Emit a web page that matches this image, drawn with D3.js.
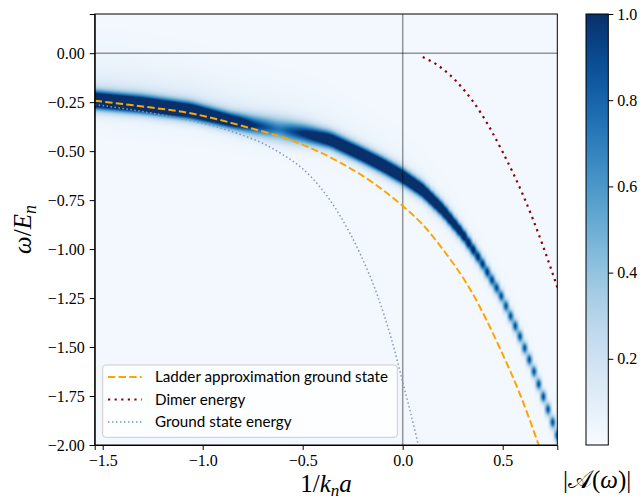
<!DOCTYPE html>
<html>
<head>
<meta charset="utf-8">
<script src="https://cdn.jsdelivr.net/npm/d3@7"></script>
<style>
body{margin:0;background:#fff}
svg{display:block}
.axis text{font-family:"Liberation Serif",serif;font-size:16px;fill:#000}
.axis path,.axis line{stroke:#000}
.lab{font-family:"Liberation Serif",serif;font-size:25px}
.leg{font-family:Lato,sans-serif;font-size:15.2px}
</style>
</head>
<body>
<div id="chart"></div>
<script>
// ---- values ----
// spectral peak position along 1/k_n a
const bandX   = [-1.54, -1.3, -1.06, -0.86, -0.75, -0.62, -0.5, -0.42, -0.36, -0.2, -0.1, 0, 0.1, 0.2, 0.3, 0.39, 0.49, 0.58, 0.65, 0.72, 0.773];
const bandY   = [-0.24, -0.263, -0.295, -0.345, -0.368, -0.39, -0.41, -0.428, -0.443, -0.52, -0.572, -0.63, -0.70, -0.80, -0.925, -1.06, -1.234, -1.43, -1.608, -1.80, -1.95];
const bandAmp = [1.6, 1.6, 1.55, 1.3, 0.85, 0.55, 0.9, 1.15, 1.35, 1.55, 1.6, 1.6, 1.6, 1.5, 1.3, 1.05, 0.9, 0.9, 0.9, 0.9, 0.9];
const bandW   = [0.03, 0.03, 0.029, 0.028, 0.034, 0.042, 0.036, 0.032, 0.03, 0.028, 0.028, 0.028, 0.027, 0.026, 0.024, 0.023, 0.022, 0.022, 0.022, 0.022, 0.022];
const bandHaze= [0.24, 0.23, 0.21, 0.19, 0.17, 0.15, 0.12, 0.1, 0.09, 0.06, 0.05, 0.04, 0.03, 0.02, 0.02, 0.02, 0.02, 0.02, 0.02, 0.02, 0.02];

// ladder approximation ground state (orange dashed)
const ladderX = [-1.54, -1.3, -1.06, -0.76, -0.56, -0.31, -0.2, -0.11, 0, 0.1, 0.2, 0.34, 0.49, 0.59, 0.68];
const ladderY = [-0.243, -0.272, -0.307, -0.383, -0.443, -0.56, -0.626, -0.69, -0.78, -0.875, -1.0, -1.21, -1.515, -1.75, -2.0];

// dimer energy (dark red dotted)
const dimerX = [0.10, 0.17, 0.24, 0.31, 0.39, 0.50, 0.60, 0.70, 0.773];
const dimerY = [-0.02, -0.058, -0.115, -0.192, -0.304, -0.505, -0.72, -0.98, -1.195];

// ground state energy (grey-blue dotted)
const groundX = [-1.54, -1.3, -1.06, -0.9, -0.81, -0.7, -0.61, -0.5, -0.45, -0.31, -0.21, -0.13, -0.055, 0.003, 0.062, 0.078];
const groundY = [-0.262, -0.298, -0.345, -0.385, -0.415, -0.46, -0.511, -0.59, -0.64, -0.835, -1.03, -1.226, -1.464, -1.69, -1.93, -2.0];

const xTicks = [-1.5, -1.0, -0.5, 0.0, 0.5];
const yTicks = [0, -0.25, -0.5, -0.75, -1.0, -1.25, -1.5, -1.75, -2.0];
const cTicks = [0.2, 0.4, 0.6, 0.8, 1.0];
const legendNames = ["Ladder approximation ground state", "Dimer energy", "Ground state energy"];

// ---- layout ----
const W = 642, H = 500;
const plot = {left: 94.7, right: 557.3, top: 14, bottom: 445};
const cbar = {left: 586, right: 608.3};
const nCols = 100; // grid columns of the computed spectrum

const x = d3.scaleLinear().domain([-1.54, 0.773]).range([plot.left, plot.right]);
const y = d3.scaleLinear().domain([-2, 0.2]).range([plot.bottom, plot.top]);
const color = d3.scaleSequential(d3.interpolateBlues).domain([0, 1]);
const cy = d3.scaleLinear().domain([0, 1]).range([plot.bottom, plot.top]);

const svg = d3.select('#chart').append('svg').attr('width', W).attr('height', H);

// ---- spectral function heatmap ----
function drawHeat(){
	var pw = Math.round(plot.right - plot.left), ph = Math.round(plot.bottom - plot.top);
	var canvas = document.createElement('canvas');
	canvas.width = pw; canvas.height = ph;
	var ctx = canvas.getContext('2d');
	var img = ctx.createImageData(pw, ph);

	var pk = d3.scaleLinear().domain(bandX).range(bandY).clamp(true);
	var am = d3.scaleLinear().domain(bandX).range(bandAmp).clamp(true);
	var wd = d3.scaleLinear().domain(bandX).range(bandW).clamp(true);
	var hz = d3.scaleLinear().domain(bandX).range(bandHaze).clamp(true);
	var x0 = x.domain()[0], dx = (x.domain()[1] - x.domain()[0]) / (nCols - 1);
	var cols = d3.range(nCols).map(function(k){
		var cx = x0 + k*dx;
		return {peak: pk(cx), amp: am(cx), w: wd(cx), haze: hz(cx)};
	});
	function A(c, yv){
		var d = yv - c.peak, u = d / c.w;
		var v = c.amp * (0.85*Math.exp(-0.5*u*u) + 0.15/(1 + u*u));
		v += d > 0 ? c.haze*Math.exp(-d/0.1) : c.haze*Math.exp(d/0.035);
		return v + 0.02;
	}
	for (var i = 0; i < pw; i++){
		var xv = x.invert(plot.left + i + 0.5);
		var f = (xv - x0)/dx;
		var k = Math.max(0, Math.min(nCols - 2, Math.floor(f)));
		var t = f - k;
		for (var j = 0; j < ph; j++){
			var yv = y.invert(plot.top + j + 0.5);
			var v = (1 - t)*A(cols[k], yv) + t*A(cols[k+1], yv);
			var c = d3.rgb(color(Math.max(0, Math.min(1, v))));
			var p = 4*(j*pw + i);
			img.data[p] = c.r; img.data[p+1] = c.g; img.data[p+2] = c.b; img.data[p+3] = 255;
		}
	}
	ctx.putImageData(img, 0, 0);
	svg.append('image')
		.attr('x', plot.left).attr('y', plot.top)
		.attr('width', pw).attr('height', ph)
		.attr('preserveAspectRatio', 'none')
		.attr('href', canvas.toDataURL());
}
drawHeat();

svg.append('clipPath').attr('id', 'plotClip').append('rect')
	.attr('x', plot.left).attr('y', plot.top)
	.attr('width', plot.right - plot.left).attr('height', plot.bottom - plot.top);

// zero lines
svg.append('line').attr('x1', plot.left).attr('x2', plot.right).attr('y1', y(0)).attr('y2', y(0))
	.attr('stroke', '#000').attr('stroke-opacity', 0.4).attr('stroke-width', 1.5);
svg.append('line').attr('x1', x(0)).attr('x2', x(0)).attr('y1', plot.top).attr('y2', plot.bottom)
	.attr('stroke', '#000').attr('stroke-opacity', 0.4).attr('stroke-width', 1.5);

// curves
const styles = [
	{stroke: '#ffa500', width: 2, dash: '7.4,3.2'},
	{stroke: '#8b0000', width: 2.2, dash: '2.2,4.4'},
	{stroke: '#8497bd', width: 1.5, dash: '1.5,2.5'}
];
const series = [d3.zip(ladderX, ladderY), d3.zip(dimerX, dimerY), d3.zip(groundX, groundY)];
const line = d3.line().x(function(d){return x(d[0])}).y(function(d){return y(d[1])}).curve(d3.curveMonotoneX);
var gLines = svg.append('g').attr('clip-path', 'url(#plotClip)');
series.forEach(function(s, i){
	gLines.append('path').attr('d', line(s))
		.attr('fill', 'none')
		.attr('stroke', styles[i].stroke)
		.attr('stroke-width', styles[i].width)
		.attr('stroke-dasharray', styles[i].dash);
});

// axes
svg.append('g').attr('class', 'axis').attr('transform', 'translate(0,' + plot.bottom + ')')
	.call(d3.axisBottom(x).tickValues(xTicks).tickFormat(d3.format('.1f')).tickSizeOuter(0).tickSize(5).tickPadding(5));
svg.append('g').attr('class', 'axis').attr('transform', 'translate(' + plot.left + ',0)')
	.call(d3.axisLeft(y).tickValues(yTicks).tickFormat(d3.format('.2f')).tickSizeOuter(0).tickSize(5).tickPadding(5));
svg.append('rect').attr('x', plot.left).attr('y', plot.top)
	.attr('width', plot.right - plot.left).attr('height', plot.bottom - plot.top)
	.attr('fill', 'none').attr('stroke', '#000').attr('stroke-width', 1);

// legend
var leg = svg.append('g');
leg.append('rect').attr('x', 102.7).attr('y', 365).attr('width', 294.6).attr('height', 72.3).attr('rx', 3)
	.attr('fill', '#fff').attr('fill-opacity', 0.8).attr('stroke', '#ccc').attr('stroke-width', 1);
legendNames.forEach(function(name, i){
	var ly = 377 + i*22.5;
	leg.append('line').attr('x1', 108).attr('x2', 141.7).attr('y1', ly).attr('y2', ly)
		.attr('stroke', styles[i].stroke).attr('stroke-width', styles[i].width)
		.attr('stroke-dasharray', styles[i].dash);
	leg.append('text').attr('class', 'leg').attr('x', 155).attr('y', ly + 5).text(name);
});

// colour bar
var grad = svg.append('defs').append('linearGradient').attr('id', 'cgrad')
	.attr('x1', 0).attr('x2', 0).attr('y1', 1).attr('y2', 0);
d3.range(0, 1.0001, 0.05).forEach(function(v){
	grad.append('stop').attr('offset', v).attr('stop-color', color(v));
});
svg.append('rect').attr('x', cbar.left).attr('y', plot.top)
	.attr('width', cbar.right - cbar.left).attr('height', plot.bottom - plot.top)
	.attr('fill', 'url(#cgrad)').attr('stroke', '#000').attr('stroke-width', 1);
svg.append('g').attr('class', 'axis').attr('transform', 'translate(' + cbar.right + ',0)')
	.call(d3.axisRight(cy).tickValues(cTicks).tickFormat(d3.format('.1f')).tickSize(5).tickPadding(4))
	.call(function(g){g.select('.domain').remove()});

// labels
var yl = svg.append('text').attr('class', 'lab').attr('font-size', '26px').attr('text-anchor', 'middle')
	.attr('transform', 'translate(31,' + ((plot.top + plot.bottom)/2) + ') rotate(-90)');
yl.append('tspan').attr('font-style', 'italic').text('ω');
yl.append('tspan').text('/');
yl.append('tspan').attr('font-style', 'italic').text('E');
yl.append('tspan').attr('font-style', 'italic').attr('font-size', '18px').attr('dy', 5).text('n');

var xl = svg.append('text').attr('class', 'lab').attr('font-size', '24px').attr('text-anchor', 'middle')
	.attr('x', (plot.left + plot.right)/2).attr('y', 492);
xl.append('tspan').text('1/');
xl.append('tspan').attr('font-style', 'italic').text('k');
xl.append('tspan').attr('font-style', 'italic').attr('font-size', '17px').attr('dy', 4).text('n');
xl.append('tspan').attr('font-style', 'italic').attr('dy', -4).text('a');

var cl = svg.append('text').attr('class', 'lab').attr('font-size', '23px').attr('text-anchor', 'middle')
	.attr('x', (cbar.left + cbar.right)/2).attr('y', 488);
cl.append('tspan').text('|');
cl.append('tspan').attr('font-family', '"DejaVu Sans",serif').text('𝒜');
cl.append('tspan').text('(');
cl.append('tspan').attr('font-style', 'italic').text('ω');
cl.append('tspan').text(')|');
</script>
</body>
</html>
